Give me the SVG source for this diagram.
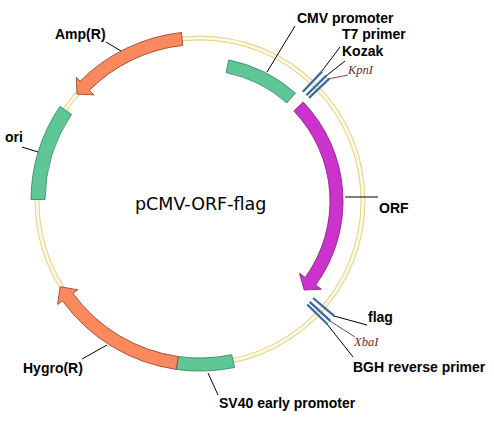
<svg xmlns="http://www.w3.org/2000/svg" width="494" height="421" viewBox="0 0 494 421">
<style>
.lbl{font-family:"Liberation Sans",Arial,sans-serif;font-weight:bold;font-size:14px;fill:#000}
.site{font-family:"Liberation Serif","Times New Roman",serif;font-style:italic;font-size:12.5px;fill:#6e2b2b}
.title{font-family:"DejaVu Sans",Verdana,sans-serif;font-size:17.5px;fill:#000}
.green{fill:#5fc796;stroke:#2f7d58;stroke-width:0.8}
.coral{fill:#fa8a5e;stroke:#8a3b2b;stroke-width:0.8}
.orf{fill:#cc33cc;stroke:#7a1f7a;stroke-width:0.8}
.tick{stroke:#3d6a9c;stroke-width:2.3;fill:none}
.lead{stroke:#000;stroke-width:1;fill:none}
.leadr{stroke:#7a3030;stroke-width:0.9;fill:none}
</style>
<rect width="494" height="421" fill="#fff"/>
<g id="backbone">
<circle cx="200" cy="201" r="163" fill="none" stroke="#e2d894" stroke-width="5"/>
<circle cx="200" cy="201" r="163" fill="none" stroke="#fdfbe6" stroke-width="2.6"/>
</g>
<g id="connectors">
<line class="lead" x1="267" y1="72" x2="295" y2="26"/>
<line class="lead" x1="322" y1="71" x2="340" y2="47"/>
<line class="lead" x1="326" y1="76" x2="345" y2="61"/>
<line class="leadr" x1="328" y1="79" x2="348" y2="75"/>
<line class="lead" x1="106" y1="42" x2="121" y2="51"/>
<line class="lead" x1="22" y1="147" x2="38" y2="152"/>
<line class="lead" x1="345" y1="197" x2="378" y2="197"/>
<line class="lead" x1="334" y1="316" x2="367" y2="325"/>
<line class="leadr" x1="330" y1="321" x2="355" y2="337"/>
<line class="lead" x1="327" y1="324" x2="353" y2="357"/>
<line class="lead" x1="82" y1="359" x2="107" y2="345"/>
<line class="lead" x1="208" y1="373" x2="218" y2="395"/>
</g>
<g id="amp">
<path class="coral" d="M181.4,32.5 A169.5,169.5 0 0 0 80.1,81.1 L76.3,77.3 L77,94.1 L93.9,94.9 L89.3,90.3 A156.5,156.5 0 0 1 182.8,45.4 Z"/>
<text class="lbl" x="55" y="39">Amp(R)</text>
</g>
<g id="ori">
<path class="green" d="M59.9,106.5 A169,169 0 0 0 31,199.5 L45,199.6 A155,155 0 0 1 71.5,114.3 Z"/>
<text class="lbl" x="5" y="142">ori</text>
</g>
<g id="cmv">
<path class="green" d="M228.7,59.9 A144,144 0 0 1 295.4,93.1 L286.8,102.9 A131,131 0 0 0 226.1,72.6 Z"/>
<text class="lbl" x="297" y="23">CMV promoter</text>
</g>
<g id="t7">
<line class="tick" x1="302.9" y1="91.8" x2="322.1" y2="71.4"/>
<text class="lbl" x="342" y="39">T7 primer</text>
</g>
<g id="kozak">
<line class="tick" x1="306.4" y1="95.3" x2="326.3" y2="75.6"/>
<text class="lbl" x="342" y="56">Kozak</text>
</g>
<g id="kpni">
<line class="tick" x1="309" y1="97.9" x2="329.3" y2="78.7"/>
<text class="site" x="348" y="74">KpnI</text>
</g>
<g id="orf">
<path class="orf" d="M303.2,102 A143,143 0 0 1 315.7,285.1 L321.4,289.2 L304.2,290 L299.5,273.3 L305.2,277.4 A130,130 0 0 0 293.8,111 Z"/>
<text class="lbl" x="379" y="213">ORF</text>
</g>
<g id="flag">
<line class="tick" x1="313.1" y1="298" x2="334.4" y2="316.2"/>
<text class="lbl" x="368" y="322">flag</text>
</g>
<g id="xbai">
<line class="tick" x1="309.7" y1="301.9" x2="330.3" y2="320.8"/>
<text class="site" x="354" y="346">XbaI</text>
</g>
<g id="bgh">
<line class="tick" x1="307.2" y1="304.5" x2="327.3" y2="324"/>
<text class="lbl" x="353" y="372">BGH reverse primer</text>
</g>
<g id="sv40">
<path class="green" d="M231.8,354.7 A157,157 0 0 1 178.1,356.5 L176.3,369.4 A170,170 0 0 0 234.5,367.5 Z"/>
<text class="lbl" x="219" y="408">SV40 early promoter</text>
</g>
<g id="hygro">
<path class="coral" d="M176.3,369.4 A170,170 0 0 1 62.5,300.9 L57.6,304.5 L60.2,286.7 L77.8,289.8 L73,293.3 A157,157 0 0 0 178.1,356.5 Z"/>
<text class="lbl" x="23" y="373">Hygro(R)</text>
</g>
<g id="plasmid-name">
<text class="title" x="135" y="210">pCMV-ORF-flag</text>
</g>
</svg>
